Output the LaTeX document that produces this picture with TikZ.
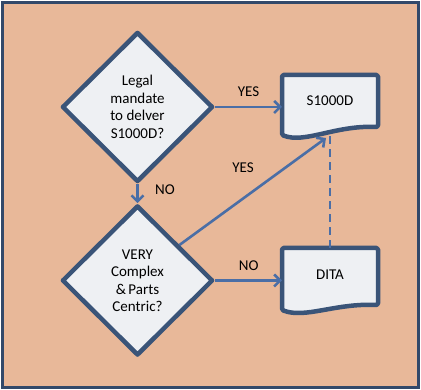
\documentclass[tikz,border=0pt]{standalone}
\usepackage{fontspec}
\setmainfont{Carlito}
\usetikzlibrary{arrows.meta,shapes.geometric,calc}
\definecolor{peach}{HTML}{E8B899}
\definecolor{frameblue}{HTML}{32496A}
\definecolor{edgeblue}{HTML}{3A5478}
\definecolor{arrowblue}{HTML}{4A6EA6}
\definecolor{boxfill}{HTML}{EEF0F3}
\tikzset{
  decision/.style={diamond, draw=edgeblue, fill=boxfill, line width=4.5pt, line join=round,
    minimum width=151pt, minimum height=150pt, inner sep=0pt, align=center,
    font=\fontsize{15}{17.5}\selectfont, aspect=1},
  lbl/.style={font=\fontsize{15}{17}\selectfont, text=black, inner sep=0pt},
  conn/.style={draw=arrowblue, line width=2.6pt, -{Straight Barb[length=6pt,width=12pt,line width=2.6pt]}},
  docshape/.style={draw=edgeblue, fill=boxfill, line width=4.5pt, line join=round, rounded corners=1.5pt},
}
\begin{document}
\begin{tikzpicture}[x=1pt,y=1pt]
\useasboundingbox (0,0) rectangle (421,390);
\fill[white] (0,0) rectangle (421,390);
\draw[frameblue, fill=peach, line width=3pt] (2.5,2) rectangle (418,387.5);
% decisions
\node[decision] (d1) at (137.5,283) {Legal\\mandate\\to delver\\S1000D?};
\node[decision] (d2) at (137.5,109.5) {VERY\\Complex\\\&\,Parts\\Centric?};
% documents
\draw[docshape] (282,315) -- (378,315) -- (378,263)
  .. controls (335,265) and (305,246) .. (282,255) -- cycle;
\node[lbl] (s1) at (330,289) {S1000D};
\coordinate (s1left) at (282,283);
\coordinate (s1bot) at (326,252);
\draw[docshape] (282,142) -- (378,142) -- (378,85)
  .. controls (335,87) and (305,71) .. (282,80) -- cycle;
\node[lbl] (dita) at (330,115) {DITA};
\coordinate (ditaleft) at (282,109.5);
\coordinate (ditatop) at (330,142);
\coordinate (d2edge) at ($(d2.north)!0.54!(d2.east)$);
% connectors
\draw[conn] (d1.east) -- (s1left) node[lbl, midway, above=9pt] (yes1) {YES};
\draw[conn] (d1.south) -- (d2.north);
\node[lbl] (no1) at (165,200) {NO};
\draw[conn] (d2edge) -- (s1bot);
\node[lbl] (yes2) at (243,222) {YES};
\draw[conn] (d2.east) -- (ditaleft) node[lbl, midway, above=9pt] (no2) {NO};
\draw[arrowblue, line width=2.6pt, dash pattern=on 8pt off 5pt] (ditatop) -- (330,254);
\end{tikzpicture}
\end{document}
